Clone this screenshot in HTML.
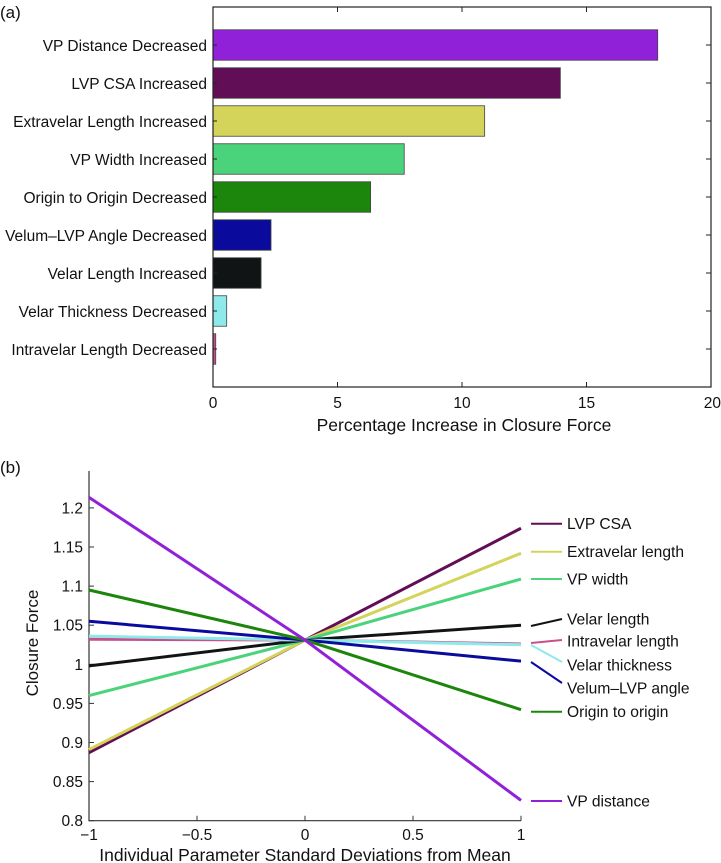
<!DOCTYPE html>
<html><head><meta charset="utf-8"><style>
html,body{margin:0;padding:0;background:#fff;}
svg{display:block;font-family:"Liberation Sans",Arial,sans-serif;}
</style></head><body>
<svg id="fig" width="721" height="863" viewBox="0 0 721 863" xmlns="http://www.w3.org/2000/svg">
<text x="0" y="18" font-size="17" fill="#111">(a)</text>
<text x="0" y="473" font-size="17" fill="#111">(b)</text>
<g id="barChart"></g>
<g id="lineChart"></g>
</svg>
<script>
// ---- Panel (a) data ----
const barCategories = ["VP Distance Decreased","LVP CSA Increased","Extravelar Length Increased","VP Width Increased","Origin to Origin Decreased","Velum\u2013LVP Angle Decreased","Velar Length Increased","Velar Thickness Decreased","Intravelar Length Decreased"];
const barValues = [17.86, 13.95, 10.91, 7.68, 6.33, 2.33, 1.93, 0.55, 0.11];
const barColors = ["#9120d9","#620e57","#d4d35a","#4ad37a","#1c850b","#0a0a9c","#111414","#8eeaea","#c94f8b"];
const barTicks = [0, 5, 10, 15, 20];

// ---- Panel (b) data ----
const lineX = [-1, 0, 1];
const lineNames = ["LVP CSA","Extravelar length","VP width","Velar length","Intravelar length","Velar thickness","Velum\u2013LVP angle","Origin to origin","VP distance"];
const seriesLVP = [0.887, 1.031, 1.174];
const seriesExtra = [0.891, 1.031, 1.142];
const seriesWidth = [0.960, 1.031, 1.109];
const seriesVelarLen = [0.998, 1.031, 1.050];
const seriesIntra = [1.032, 1.031, 1.026];
const seriesThick = [1.036, 1.031, 1.025];
const seriesAngle = [1.055, 1.031, 1.004];
const seriesOrigin = [1.095, 1.031, 0.942];
const seriesVPDist = [1.2135, 1.031, 0.826];
const lineColors = ["#620e57","#d4d35a","#4ad37a","#111414","#c94f8b","#8eeaea","#0a0a9c","#1c850b","#9120d9"];
const yTicks = [0.8, 0.85, 0.9, 0.95, 1, 1.05, 1.1, 1.15, 1.2];
const yTickLabels = ["0.8","0.85","0.9","0.95","1","1.05","1.1","1.15","1.2"];
const xTicks = [-1, -0.5, 0, 0.5, 1];
const xTickLabels = ["\u22121","\u22120.5","0","0.5","1"];

const NS = "http://www.w3.org/2000/svg";
function mk(tag, attrs, parent){const e=document.createElementNS(NS,tag);for(const k in attrs)e.setAttribute(k,attrs[k]);parent.appendChild(e);return e;}

// ---- Draw panel (a) ----
(function(){
  const g = document.getElementById('barChart');
  const L=213, R=711, T=7, B=387;
  const xs = v => L + (v - 0) / 20 * (R - L);
  const step = (B - T) / (barCategories.length + 1);
  const ys = i => T + (i + 1) * step;
  const bh = 30.5;
  barValues.forEach((v,i)=>{
    const r = mk('rect',{x:xs(0),y:ys(i)-bh/2,width:xs(v)-xs(0),height:bh,fill:barColors[i],stroke:"#444","stroke-width":0.8},g);
    
    
    const t = mk('text',{x:207,y:ys(i)+6,"text-anchor":"end","font-size":"15.5",fill:"#111"},g);
    t.textContent = barCategories[i];
    
    
    const tk = mk('line',{x1:R-5,x2:R,y1:ys(i),y2:ys(i),stroke:"#222","stroke-width":1},g);
    
    
    const tk2 = mk('line',{x1:L,x2:L+4,y1:ys(i),y2:ys(i),stroke:"#222","stroke-width":1},g);
    
    
  });
  barTicks.forEach((v)=>{
    const t1 = mk('line',{x1:xs(v),x2:xs(v),y1:B,y2:B-5,stroke:"#222","stroke-width":1},g);
    
    
    const t2 = mk('line',{x1:xs(v),x2:xs(v),y1:T,y2:T+5,stroke:"#222","stroke-width":1},g);
    
    
    const lb = mk('text',{x:xs(v),y:408,"text-anchor":v===20?"end":"middle","font-size":"15.5",fill:"#111"},g);
    if(v===20) lb.setAttribute('x', 721);
    lb.textContent = String(v);
    
    
  });
  const box = mk('rect',{x:L,y:T,width:R-L,height:B-T,fill:"none",stroke:"#222","stroke-width":1.2},g);
  
  
  const xt = mk('text',{x:464,y:431,"text-anchor":"middle","font-size":"17.5",fill:"#111"},g);
  xt.textContent = "Percentage Increase in Closure Force";
  
  
})();

// ---- Draw panel (b) ----
(function(){
  const g = document.getElementById('lineChart');
  const L=89, R=521, B=820.7;
  const xs = v => 305 + v * 216;
  const ys = v => 664.3 - (v - 1) * 782;
  const series = [seriesLVP,seriesExtra,seriesWidth,seriesVelarLen,seriesIntra,seriesThick,seriesAngle,seriesOrigin,seriesVPDist];
  const ax = mk('path',{d:`M${L},471 L${L},${B} L${R},${B}`,fill:"none",stroke:"#333","stroke-width":1.2},g);
  
  
  yTicks.forEach((v,i)=>{
    const tk = mk('line',{x1:L,x2:L+5,y1:ys(v),y2:ys(v),stroke:"#333","stroke-width":1},g);
    
    
    const lb = mk('text',{x:83,y:ys(v)+5.5,"text-anchor":"end","font-size":"15.5",fill:"#111"},g);
    lb.textContent = yTickLabels[i];
    
    
  });
  xTicks.forEach((v,i)=>{
    const tk = mk('line',{x1:xs(v),x2:xs(v),y1:B,y2:B-5,stroke:"#333","stroke-width":1},g);
    
    
    const lb = mk('text',{x:xs(v),y:840,"text-anchor":"middle","font-size":"15.5",fill:"#111"},g);
    lb.textContent = xTickLabels[i];
    
    
  });
  series.forEach((s,i)=>{
    const d = s.map((v,j)=>(j?'L':'M')+xs(lineX[j])+','+ys(v)).join(' ');
    const p = mk('path',{d:d,fill:"none",stroke:lineColors[i],"stroke-width":3,"stroke-linejoin":"round"},g);
    
    
  });
  // legend
  const legY = [523.7, 551.7, 579, 619, 641, 665, 688, 711.7, 801];
  const legL = [[523.7,523.7],[551.7,551.7],[579,579],[626,619],[643,640],[645,662],[662,683],[711.7,711.7],[801,801]];
  lineNames.forEach((n,i)=>{
    const ln = mk('line',{x1:531,x2:562,y1:legL[i][0],y2:legL[i][1],stroke:lineColors[i],"stroke-width":2},g);
    
    
    const t = mk('text',{x:567,y:legY[i]+5.5,"font-size":"15.6",fill:"#111"},g);
    t.textContent = n;
    
    
  });
  const xt = mk('text',{x:305,y:861,"text-anchor":"middle","font-size":"17.5",fill:"#111"},g);
  xt.textContent = "Individual Parameter Standard Deviations from Mean";
  
  
  const yt = mk('text',{x:0,y:0,"text-anchor":"middle","font-size":"17",fill:"#111",transform:"translate(38,643) rotate(-90)"},g);
  yt.textContent = "Closure Force";
  
  
})();
</script>
</body></html>
